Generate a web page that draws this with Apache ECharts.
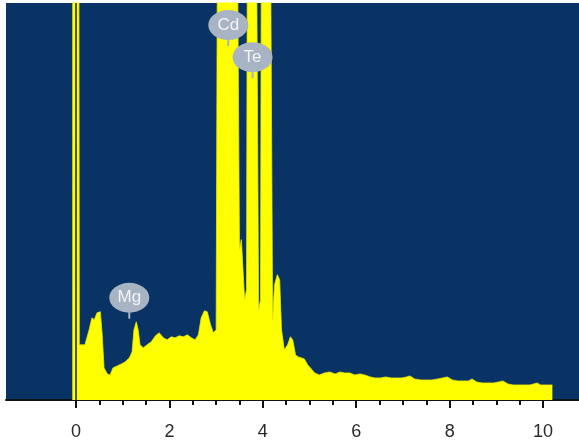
<!DOCTYPE html>
<html>
<head>
<meta charset="utf-8">
<script src="https://cdn.jsdelivr.net/npm/echarts@6/dist/echarts.min.js"></script>
<style>
  html, body { margin: 0; padding: 0; background: #ffffff; }
  #chart { width: 579px; height: 445px; }
</style>
</head>
<body>
<div id="chart"></div>
<script>
// EDS spectrum, energy in keV, counts in arbitrary units (peaks above 396 are cut off)
const energy = [
  -0.08, 0.06, 0.07, 0.19, 0.28, 0.34, 0.39, 0.45, 0.52, 0.56, 0.60, 0.67, 0.73, 0.79, 0.88, 0.97,
  1.05, 1.14, 1.20, 1.24, 1.29, 1.33, 1.37, 1.44, 1.52, 1.61, 1.70, 1.78, 1.87, 1.95,
  2.04, 2.12, 2.21, 2.30, 2.38, 2.47, 2.55, 2.62, 2.68, 2.75, 2.81, 2.88, 2.94, 3.00,
  3.03, 3.45, 3.50, 3.54, 3.57, 3.61, 3.65, 3.67, 3.86, 3.91, 3.95, 3.97,
  4.16, 4.21, 4.25, 4.31, 4.36, 4.40, 4.46, 4.53, 4.59, 4.64, 4.70, 4.76, 4.83, 4.89, 4.96,
  5.02, 5.11, 5.21, 5.32, 5.43, 5.55, 5.65, 5.75, 5.86, 5.97,
  6.08, 6.18, 6.30, 6.40, 6.52, 6.63, 6.75, 6.86, 6.97,
  7.08, 7.15, 7.25, 7.38, 7.50, 7.62, 7.74, 7.85, 7.95,
  8.06, 8.18, 8.30, 8.40, 8.48, 8.58, 8.70, 8.82, 8.94,
  9.05, 9.14, 9.25, 9.36, 9.48, 9.60, 9.72, 9.80, 9.87, 9.95, 10.07, 10.20
];
const counts = [
  500, 500, 55, 55, 70, 82, 80, 87, 88, 65, 32, 26, 25, 32, 34, 36,
  38, 42, 48, 70, 78, 70, 55, 52, 55, 58, 64, 67, 62, 60,
  63, 62, 64, 63, 65, 62, 60, 65, 82, 89, 88, 75, 67, 70,
  500, 500, 150, 160, 160, 100, 110, 500, 500, 90, 100, 500,
  500, 80, 115, 125, 120, 70, 50, 55, 63, 60, 45, 43, 42, 41, 35,
  32, 27, 25, 27, 28, 26, 28, 27, 27, 25,
  26, 25, 23, 22, 22, 23, 22, 22, 22,
  23, 24, 21, 20, 20, 20, 21, 22, 23,
  20, 19, 19, 19, 21, 18, 17, 17, 17,
  18, 19, 16, 15, 15, 15, 15, 16, 17, 15, 15, 15
];

// element markers: name, energy, height of the bubble
const peakNames = ["Cd", "Te", "Mg"];
const peakEnergy = [3.26, 3.78, 1.14];
const peakHeight = [374, 342, 102];

const majorTicks = [0, 2, 4, 6, 8, 10];
const minorTicks = [];
for (let i = 0; i <= 20; i++) minorTicks.push(i / 2);

const chart = echarts.init(document.getElementById("chart"));

const bubble = "path://M0,15 A20,15 0 1,1 40,15 A20,15 0 1,1 0,15 Z M19,29 L21,29 L21,36 L19,36 Z";

const option = {
  animation: false,
  grid: {
    left: 6,
    right: 0,
    top: 3,
    bottom: 45,
    show: true,
    backgroundColor: "#093365",
    borderWidth: 0,
  },
  xAxis: [
    {
      type: "value",
      min: -1.5,
      max: 10.77,
      position: "bottom",
      splitLine: { show: false },
      axisLine: { show: true, lineStyle: { color: "#111111", width: 2 } },
      axisTick: {
        show: true,
        customValues: majorTicks,
        length: 8,
        lineStyle: { color: "#111111", width: 2 },
      },
      axisLabel: {
        customValues: majorTicks,
        margin: 23,
        color: "#2a2a2a",
        fontSize: 18,
        fontFamily: "Liberation Sans",
      },
    },
    {
      type: "value",
      min: -1.5,
      max: 10.77,
      position: "bottom",
      splitLine: { show: false },
      axisLine: { show: false },
      axisTick: {
        show: true,
        customValues: minorTicks,
        length: 5,
        lineStyle: { color: "#111111", width: 2 },
      },
      axisLabel: { show: false },
    },
  ],
  yAxis: {
    type: "value",
    min: 0,
    max: 396,
    show: false,
    splitLine: { show: false },
  },
  series: [
    {
      type: "line",
      xAxisIndex: 0,
      data: energy.map((e, i) => [e, counts[i]]),
      symbol: "none",
      clip: true,
      lineStyle: { color: "#e8e800", width: 0.8 },
      areaStyle: { color: "#ffff00", opacity: 1 },
      markLine: {
        silent: true,
        symbol: "none",
        label: { show: false },
        lineStyle: { color: "#1a1a1a", width: 1.5, type: "solid" },
        data: [{ xAxis: 0 }],
      },
      markPoint: {
        symbol: bubble,
        symbolSize: [40, 36],
        symbolOffset: [0, 3],
        itemStyle: { color: "#a8b3c3" },
        label: {
          show: true,
          color: "#f4f4f4",
          fontSize: 17,
          fontFamily: "Liberation Sans",
          offset: [0, -3],
          formatter: (p) => p.name,
        },
        data: peakNames.map((n, i) => ({
          name: n,
          coord: [peakEnergy[i], peakHeight[i]],
        })),
      },
    },
  ],
};

chart.setOption(option);
</script>
</body>
</html>
